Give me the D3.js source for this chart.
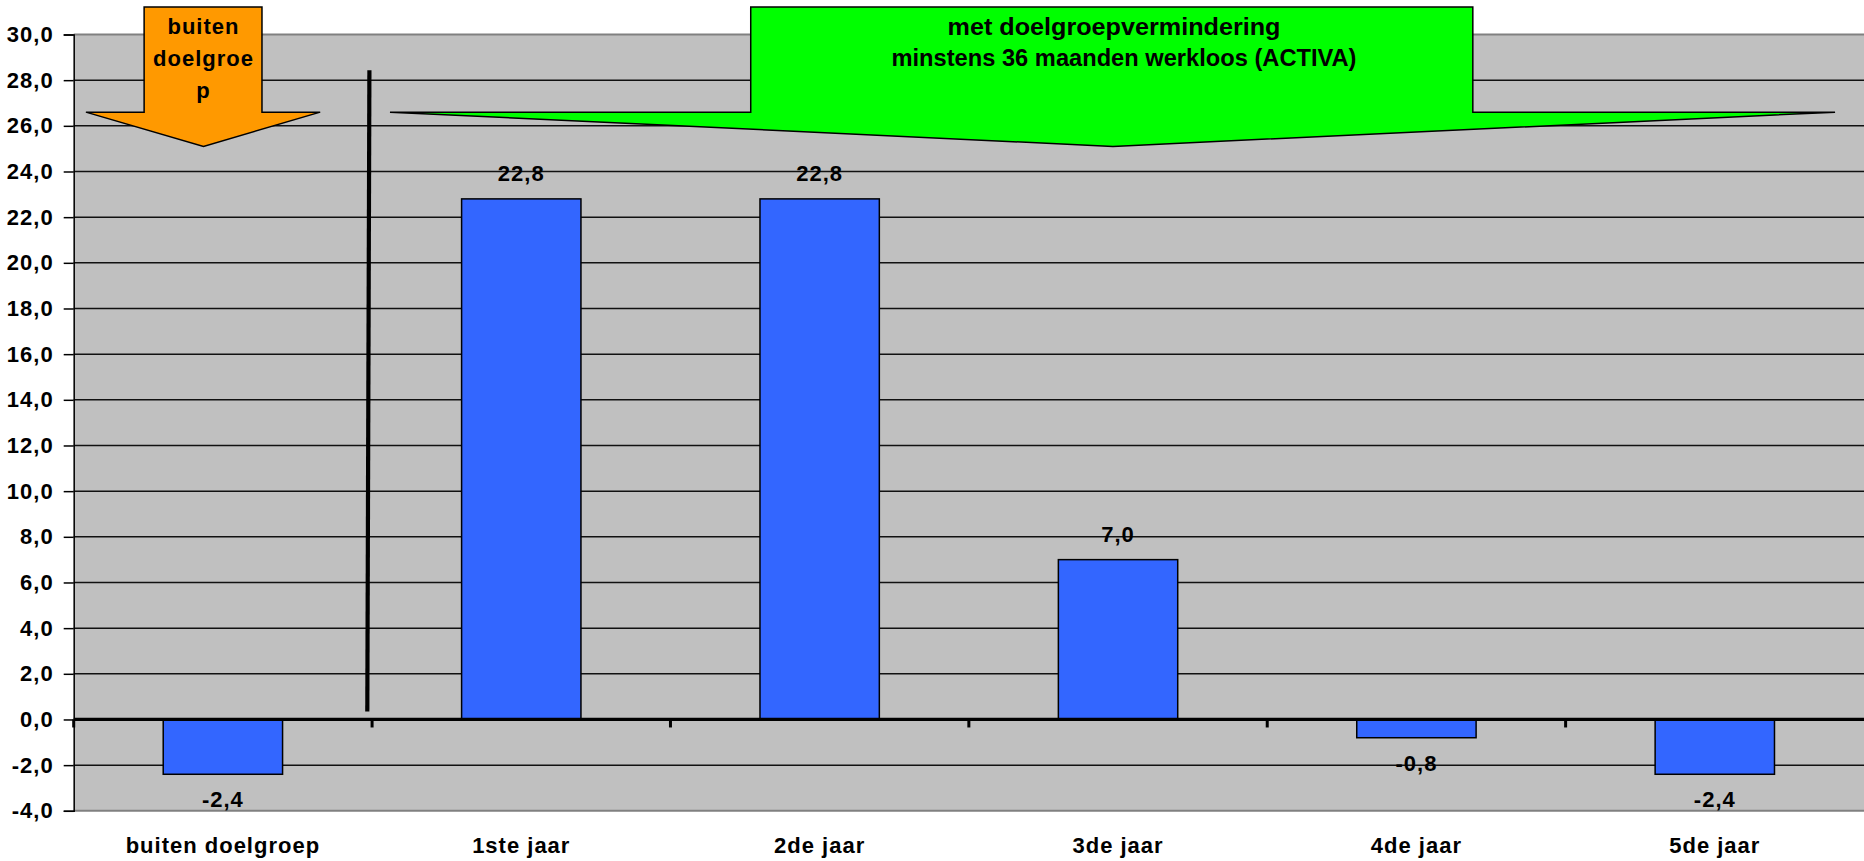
<!DOCTYPE html>
<html>
<head>
<meta charset="utf-8">
<script src="https://cdn.jsdelivr.net/npm/d3@7"></script>
<style>
  html, body { margin: 0; padding: 0; background: #fff; overflow: hidden; }
  text { font-family: "Liberation Sans", Arial, sans-serif; font-weight: bold; fill: #000; }
</style>
</head>
<body>
<svg id="chart" width="1864" height="861"></svg>
<script>
// ---- data ----
const categories = ["buiten doelgroep", "1ste jaar", "2de jaar", "3de jaar", "4de jaar", "5de jaar"];
const values = [-2.4, 22.8, 22.8, 7.0, -0.8, -2.4];
const yTicks = [-4, -2, 0, 2, 4, 6, 8, 10, 12, 14, 16, 18, 20, 22, 24, 26, 28, 30];
const orangeLabel = ["buiten", "doelgroe", "p"];
const greenLabel = ["met doelgroepvermindering", "minstens 36 maanden werkloos (ACTIVA)"];

// ---- layout ----
const W = 1864, H = 861;
const margin = { top: 34.5, right: 0, bottom: 50.2, left: 73.7 };
const svg = d3.select("#chart");

const x = d3.scaleBand().domain(categories)
  .range([margin.left, W - margin.right])
  .paddingInner(0.6).paddingOuter(0.3);
// continuous "category index" scale for annotations
const xi = d3.scaleLinear().domain([0, categories.length]).range([margin.left, W - margin.right]);
const y = d3.scaleLinear().domain([-4, 30]).range([H - margin.bottom, margin.top]);

const locale = d3.formatLocale({ decimal: ",", thousands: ".", grouping: [3], currency: ["€", ""], minus: "-" });
const fmt = locale.format(".1f");

// plot background
svg.append("rect")
  .attr("x", margin.left).attr("y", y(30))
  .attr("width", W - margin.right - margin.left)
  .attr("height", y(-4) - y(30))
  .attr("fill", "#C0C0C0");

// gridlines
svg.append("g").selectAll("line")
  .data(yTicks.filter(t => t !== 30 && t !== -4 && t !== 0))
  .join("line")
  .attr("x1", margin.left).attr("x2", W - margin.right)
  .attr("y1", d => y(d)).attr("y2", d => y(d))
  .attr("stroke", "#111").attr("stroke-width", 1.5);

// top/bottom borders
[30, -4].forEach(t => {
  svg.append("line")
    .attr("x1", margin.left).attr("x2", W - margin.right)
    .attr("y1", y(t)).attr("y2", y(t))
    .attr("stroke", "#808080").attr("stroke-width", 2);
});

// left axis
const yAxis = d3.axisLeft(y).tickValues(yTicks).tickFormat(fmt).tickSize(10).tickPadding(10);
const gy = svg.append("g").attr("transform", `translate(${margin.left},0)`).call(yAxis);
gy.select(".domain").attr("stroke", "#000").attr("stroke-width", 1.5);
gy.selectAll(".tick line").attr("stroke", "#000").attr("stroke-width", 1.5);
gy.selectAll(".tick text")
  .attr("font-size", 22).attr("letter-spacing", 1)
  .style("font-family", '"Liberation Sans", Arial, sans-serif').style("font-weight", "bold")
  .attr("fill", "#000");

// bars
svg.append("g").selectAll("rect")
  .data(values)
  .join("rect")
  .attr("x", (d, i) => x(categories[i]))
  .attr("width", x.bandwidth())
  .attr("y", d => y(Math.max(0, d)))
  .attr("height", d => Math.abs(y(d) - y(0)))
  .attr("fill", "#3366FF")
  .attr("stroke", "#000").attr("stroke-width", 1.5);

// zero line
svg.append("line")
  .attr("x1", margin.left).attr("x2", W - margin.right)
  .attr("y1", y(0)).attr("y2", y(0))
  .attr("stroke", "#000").attr("stroke-width", 3.2);

// category tick marks at band boundaries
svg.append("g").selectAll("line")
  .data(d3.range(0, categories.length))
  .join("line")
  .attr("x1", d => xi(d)).attr("x2", d => xi(d))
  .attr("y1", y(0)).attr("y2", y(0) + 8)
  .attr("stroke", "#000").attr("stroke-width", 3);

// category labels
svg.append("g").selectAll("text")
  .data(categories)
  .join("text")
  .attr("x", d => x(d) + x.bandwidth() / 2)
  .attr("y", H - 8)
  .attr("text-anchor", "middle")
  .attr("font-size", 22).attr("letter-spacing", 1)
  .text(d => d);

// separator line
svg.append("line")
  .attr("x1", xi(0.991)).attr("y1", y(28.43))
  .attr("x2", xi(0.984)).attr("y2", y(0.35))
  .attr("stroke", "#000").attr("stroke-width", 4.2);

// arrow builder (index/value units)
function arrowPath(boxL, boxR, top, wingL, wingR, shoulder, tipX, tipY) {
  const pts = [
    [xi(boxL), y(top)], [xi(boxR), y(top)], [xi(boxR), y(shoulder)],
    [xi(wingR), y(shoulder)], [xi(tipX), y(tipY)], [xi(wingL), y(shoulder)],
    [xi(boxL), y(shoulder)]
  ];
  return d3.line()(pts) + "Z";
}

// orange arrow
svg.append("path")
  .attr("d", arrowPath(0.236, 0.631, 31.2, 0.041, 0.826, 26.6, 0.435, 25.1))
  .attr("fill", "#FF9900").attr("stroke", "#000").attr("stroke-width", 1.5)
  .attr("stroke-linejoin", "miter");
svg.append("g").selectAll("text")
  .data(orangeLabel)
  .join("text")
  .attr("x", xi(0.435))
  .attr("y", (d, i) => 34 + i * 32)
  .attr("text-anchor", "middle")
  .attr("font-size", 22).attr("letter-spacing", 1)
  .text(d => d);

// green arrow
svg.append("path")
  .attr("d", arrowPath(2.269, 4.689, 31.2, 1.060, 5.903, 26.6, 3.483, 25.1))
  .attr("fill", "#00FF00").attr("stroke", "#000").attr("stroke-width", 1.5)
  .attr("stroke-linejoin", "miter");
const greenLens = [333, 465];
const greenX = [1114, 1124];
svg.append("g").selectAll("text")
  .data(greenLabel)
  .join("text")
  .attr("x", (d, i) => greenX[i] - greenLens[i] / 2)
  .attr("y", (d, i) => 34.5 + i * 31.5)
  .attr("font-size", 23)
  .attr("textLength", (d, i) => greenLens[i])
  .attr("lengthAdjust", "spacingAndGlyphs")
  .text(d => d);

// value labels
svg.append("g").selectAll("text")
  .data(values)
  .join("text")
  .attr("x", (d, i) => x(categories[i]) + x.bandwidth() / 2)
  .attr("y", d => d >= 0 ? y(d) - 18 : y(d) + 33)
  .attr("text-anchor", "middle")
  .attr("font-size", 22).attr("letter-spacing", 1)
  .text(d => fmt(d));
</script>
</body>
</html>
